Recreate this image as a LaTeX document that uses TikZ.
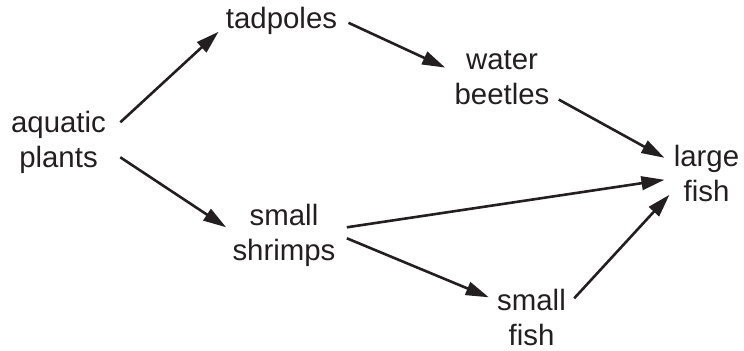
\documentclass[tikz,border=0pt]{standalone}
\usepackage{fontspec}
\setmainfont{Liberation Sans}
\usepackage{xcolor}
\usepackage{tikz}
\usetikzlibrary{arrows.meta}
\definecolor{ink}{HTML}{231F20}

\begin{document}
\begin{tikzpicture}[
  x=0.5pt, y=-0.5pt,
  every node/.style={align=center,inner sep=0pt,text=ink,
    font=\fontsize{14.7}{17.5}\selectfont},
  eats/.style={draw=ink,line width=1.3pt,
    -{Triangle[length=11.5pt,width=6.8pt]}}]
\useasboundingbox (0,0) rectangle (744,351);
\node (plants)  at (58.5,142.3) {aquatic\\plants};
\node (tadpole) at (281.5,20.8) {tadpoles};
\node (beetle)  at (502,77.6)   {water\\beetles};
\node (large)   at (706.5,173.8) {large\\fish};
\node (shrimp)  at (284,235.3)  {small\\shrimps};
\node (small)   at (531.5,317.3) {small\\fish};
\draw[eats] ([shift={(14,-20)}]plants.east) -- ([shift={(-7,11)}]tadpole.west);
\draw[eats] ([shift={(14,15)}]plants.east) -- ([shift={(-6,-8)}]shrimp.west);
\draw[eats] ([shift={(11,2)}]tadpole.east) -- ([shift={(-9,-10)}]beetle.west);
\draw[eats] ([shift={(9,22)}]beetle.east) -- ([shift={(-9,-16)}]large.west);
\draw[eats] ([shift={(11,-8)}]shrimp.east) -- ([shift={(-9,6)}]large.west);
\draw[eats] ([shift={(11,3)}]shrimp.east) -- ([shift={(-8,-20)}]small.west);
\draw[eats] ([shift={(8,-19)}]small.east) -- ([shift={(-4,21)}]large.west);
\end{tikzpicture}
\end{document}
